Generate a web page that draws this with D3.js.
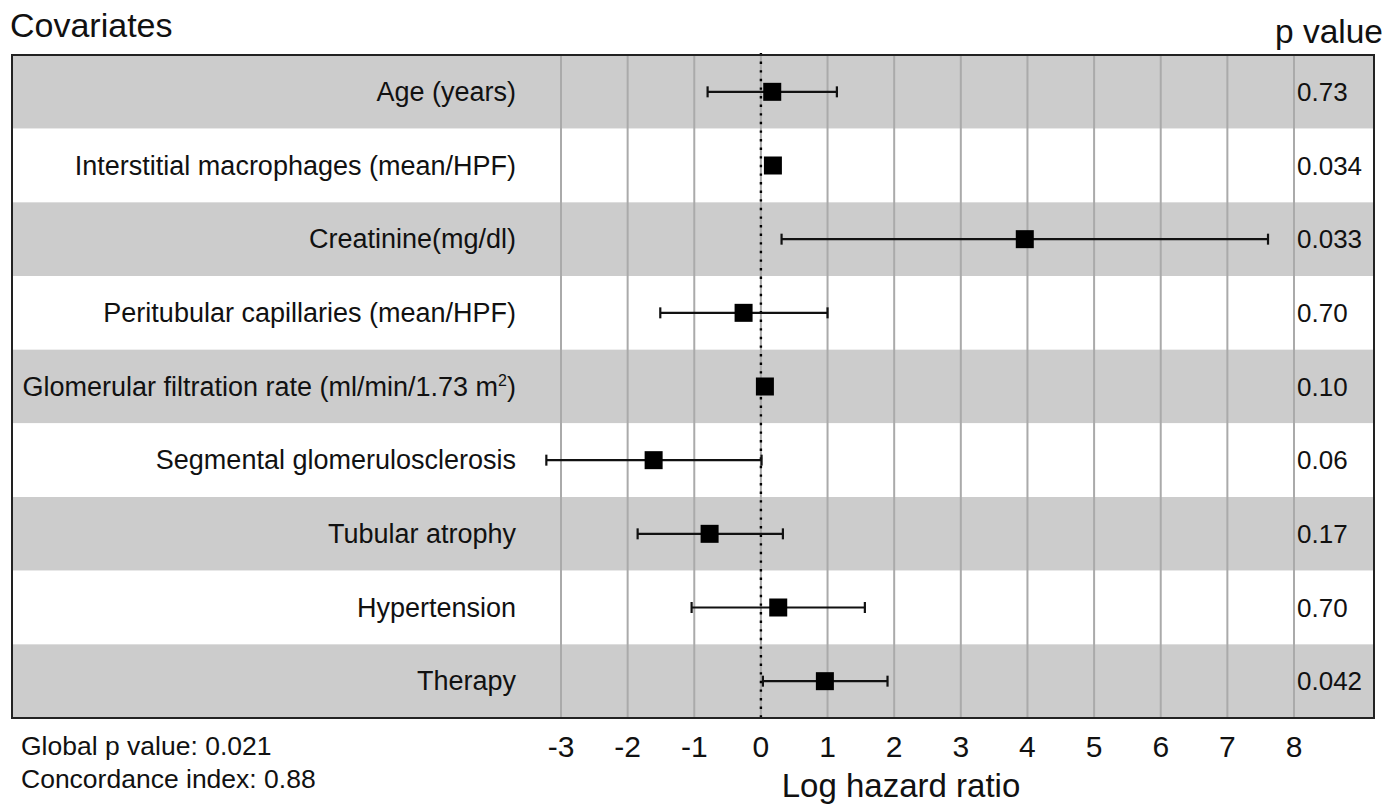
<!DOCTYPE html>
<html>
<head>
<meta charset="utf-8">
<script src="https://cdn.jsdelivr.net/npm/d3@7"></script>
<style>
  html, body { margin: 0; padding: 0; background: #fff; }
  svg { display: block; font-family: "Liberation Sans", Arial, Helvetica, sans-serif; }
</style>
</head>
<body>
<svg id="chart" width="1400" height="805"></svg>
<script>
// ---- data ----
const covariates = [
  "Age (years)",
  "Interstitial macrophages (mean/HPF)",
  "Creatinine(mg/dl)",
  "Peritubular capillaries (mean/HPF)",
  "Glomerular filtration rate (ml/min/1.73 m²)",
  "Segmental glomerulosclerosis",
  "Tubular atrophy",
  "Hypertension",
  "Therapy"
];
const estimates = [0.17, 0.18, 3.96, -0.26, 0.06, -1.61, -0.77, 0.26, 0.96];
const lowerCI   = [-0.80, null, 0.31, -1.51, null, -3.22, -1.85, -1.04, 0.03];
const upperCI   = [1.14, null, 7.61, 1.00, null, 0.01, 0.33, 1.56, 1.90];
const pValues   = ["0.73", "0.034", "0.033", "0.70", "0.10", "0.06", "0.17", "0.70", "0.042"];
const xTicks    = [-3, -2, -1, 0, 1, 2, 3, 4, 5, 6, 7, 8];
const globalStats = ["Global p value: 0.021", "Concordance index: 0.88"];

const rows = covariates.map((c, i) => ({
  name: c, est: estimates[i], lo: lowerCI[i], hi: upperCI[i], p: pValues[i], i
}));

// ---- layout ----
const svg = d3.select("#chart");
const box = { left: 12, right: 1374, top: 55, bottom: 718 };

const x = d3.scaleLinear().domain([-3, 8]).range([561, 1294]);
const y = d3.scaleBand().domain(covariates).range([box.top, box.bottom]).padding(0);

// row backgrounds
svg.append("g").selectAll("rect").data(rows).join("rect")
  .attr("x", box.left).attr("width", box.right - box.left)
  .attr("y", d => y(d.name)).attr("height", y.bandwidth())
  .attr("fill", d => d.i % 2 === 0 ? "#cccccc" : "#ffffff");

// gridlines
svg.append("g").selectAll("line").data(xTicks).join("line")
  .attr("x1", d => x(d)).attr("x2", d => x(d))
  .attr("y1", box.top).attr("y2", box.bottom)
  .attr("stroke", "#aaaaaa").attr("stroke-width", 2);

// zero dotted line
svg.append("line")
  .attr("x1", x(0)).attr("x2", x(0))
  .attr("y1", box.top - 2).attr("y2", box.bottom)
  .attr("stroke", "#000").attr("stroke-width", 2.4)
  .attr("stroke-dasharray", "2.4,6.2");

// border
svg.append("rect")
  .attr("x", box.left).attr("y", box.top)
  .attr("width", box.right - box.left).attr("height", box.bottom - box.top)
  .attr("fill", "none").attr("stroke", "#222").attr("stroke-width", 2);

// error bars
const ci = rows.filter(d => d.lo !== null);
const eg = svg.append("g").attr("stroke", "#111").attr("stroke-width", 2.2);
eg.selectAll("line.ci").data(ci).join("line").attr("class", "ci")
  .attr("x1", d => x(d.lo)).attr("x2", d => x(d.hi))
  .attr("y1", d => y(d.name) + y.bandwidth() / 2)
  .attr("y2", d => y(d.name) + y.bandwidth() / 2);
eg.selectAll("line.capL").data(ci).join("line").attr("class", "capL")
  .attr("x1", d => x(d.lo)).attr("x2", d => x(d.lo))
  .attr("y1", d => y(d.name) + y.bandwidth() / 2 - 5.5)
  .attr("y2", d => y(d.name) + y.bandwidth() / 2 + 5.5);
eg.selectAll("line.capR").data(ci).join("line").attr("class", "capR")
  .attr("x1", d => x(d.hi)).attr("x2", d => x(d.hi))
  .attr("y1", d => y(d.name) + y.bandwidth() / 2 - 5.5)
  .attr("y2", d => y(d.name) + y.bandwidth() / 2 + 5.5);

// squares
const sq = 18;
svg.append("g").selectAll("rect").data(rows).join("rect")
  .attr("x", d => x(d.est) - sq / 2)
  .attr("y", d => y(d.name) + y.bandwidth() / 2 - sq / 2)
  .attr("width", sq).attr("height", sq)
  .attr("fill", "#000");

// row labels
const lab = svg.append("g").attr("font-size", 27).attr("fill", "#111").attr("text-anchor", "end");
lab.selectAll("text").data(rows).join("text")
  .attr("x", 516)
  .attr("y", d => y(d.name) + y.bandwidth() / 2 + 9)
  .each(function(d) {
    const t = d3.select(this);
    if (d.name.endsWith("m²)")) {
      t.append("tspan").text(d.name.replace("m²)", "m"));
      t.append("tspan").attr("font-size", 16).attr("dy", -10).text("2");
      t.append("tspan").attr("dy", 10).text(")");
    } else {
      t.text(d.name);
    }
  });

// p values
svg.append("g").attr("font-size", 26).attr("fill", "#111")
  .selectAll("text").data(rows).join("text")
  .attr("x", 1297)
  .attr("y", d => y(d.name) + y.bandwidth() / 2 + 9)
  .text(d => d.p);

// x axis tick labels
svg.append("g").attr("font-size", 30).attr("fill", "#111").attr("text-anchor", "middle")
  .selectAll("text").data(xTicks).join("text")
  .attr("x", d => x(d)).attr("y", 757)
  .text(d => d < 0 ? "-" + Math.abs(d) : String(d));

// axis title
svg.append("text").attr("x", 901).attr("y", 797)
  .attr("text-anchor", "middle").attr("font-size", 33).attr("fill", "#111")
  .text("Log hazard ratio");

// headers
svg.append("text").attr("x", 10).attr("y", 37)
  .attr("font-size", 34).attr("fill", "#111").text("Covariates");
svg.append("text").attr("x", 1383).attr("y", 43)
  .attr("text-anchor", "end").attr("font-size", 33.5).attr("fill", "#111").text("p value");

// global stats
svg.append("g").attr("font-size", 26.5).attr("fill", "#111")
  .selectAll("text").data(globalStats).join("text")
  .attr("x", 21).attr("y", (d, i) => 755 + i * 33)
  .text(d => d);
</script>
</body>
</html>
